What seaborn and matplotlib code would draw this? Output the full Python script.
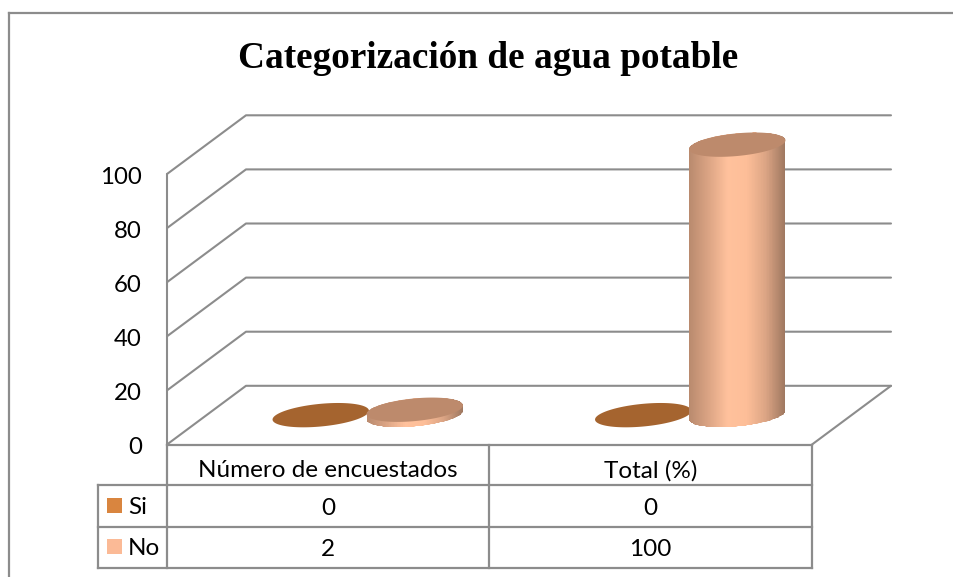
"""
Categorización de agua potable: cilindros tipo "3D" con tabla de datos debajo.
"""

import numpy as np
import pandas as pd
import matplotlib.pyplot as plt
import seaborn as sns
from matplotlib.colors import LinearSegmentedColormap

titulo = "Categorización de agua potable"
categorias = ["Número de encuestados", "Total (%)"]
series = ["Si", "No"]
valores_si = [0, 0]
valores_no = [2, 100]
ticks_y = [0, 20, 40, 60, 80, 100]

COLOR_LINEA = "#8c8c8c"
COLOR_LEYENDA = {"Si": "#d9853f", "No": "#fbba96"}
COLOR_TAPA = {"Si": "#a5642f", "No": "#bd8a6c"}
COLORES_CUERPO = ["#b98a6e", "#dba484", "#ffc19c", "#fdbe98", "#dba484", "#9f7860"]

W, H = 954, 577
# plano frontal del grafico, en pixeles
X0, X1, Y0, Y100 = 167, 812, 444.5, 174
FONDO_X, FONDO_Y = 79, 58.7
A_ELIPSE, B_ELIPSE, GIRO = 1.03, 11.3, np.radians(5.5)


def elipse(cx, cy, t, a, sx, sy):
    # elipse inclinada: el giro se hace en pixeles y vuelve a unidades de datos
    px = a * np.cos(GIRO) * np.cos(t) - B_ELIPSE * np.sin(GIRO) * np.sin(t)
    py = a * np.sin(GIRO) * np.cos(t) + B_ELIPSE * np.cos(GIRO) * np.sin(t)
    return cx + px / sx, cy + py / sy


def main():
    sns.set_theme(style="white")
    plt.rcParams["font.family"] = ["Lato", "DejaVu Sans"]

    fig = plt.figure(figsize=(W / 100, H / 100), dpi=100, facecolor="white")

    # capa en pixeles para marco, titulo y tabla
    capa = fig.add_axes([0, 0, 1, 1], zorder=0)
    capa.set_xlim(0, W)
    capa.set_ylim(H, 0)
    capa.axis("off")

    # plano medio de profundidad: ahi se apoyan los cilindros
    ax = fig.add_axes(
        [(X0 + FONDO_X / 2) / W, 1 - (Y0 - FONDO_Y / 2) / H, (X1 - X0) / W, (Y0 - Y100) / H],
        zorder=1,
    )
    ax.patch.set_alpha(0)

    df = pd.DataFrame({
        "categoria": categorias * 2,
        "serie": [series[0]] * 2 + [series[1]] * 2,
        "valor": valores_si + valores_no,
    })
    sns.barplot(
        data=df, x="categoria", y="valor", hue="serie", palette=COLOR_LEYENDA,
        width=0.583, gap=0, legend=False, ax=ax,
    )
    ax.set_xlim(-0.5, 1.5)
    ax.set_ylim(0, 100)
    ax.axis("off")

    sx = (X1 - X0) / 2
    sy = (Y0 - Y100) / 100
    dx = FONDO_X / 2 / sx
    dy = FONDO_Y / 2 / sy

    # paredes y rejilla
    linea = dict(color=COLOR_LINEA, lw=1.5, clip_on=False, zorder=1, solid_capstyle="round")
    for v in ticks_y:
        ax.plot([-0.5 - dx, -0.5 + dx, 1.5 + dx], [v - dy, v + dy, v + dy], **linea)
        yp = Y0 - v * sy
        capa.text(142, yp + 3.5, str(v), ha="right", va="center", fontsize=17.3, color="black")
    ax.plot([-0.5 - dx, -0.5 - dx], [ticks_y[0] - dy, ticks_y[-1] - dy], **linea)
    ax.plot([1.5 - dx, 1.5 + dx], [ticks_y[0] - dy, ticks_y[0] + dy], **linea)

    # cilindros
    cmap = LinearSegmentedColormap.from_list("cuerpo", COLORES_CUERPO)
    z = 3
    for serie, cont in zip(series, ax.containers):
        for barra in cont:
            barra.set_alpha(0)
            cx = barra.get_x() + barra.get_width() / 2
            alto = barra.get_height()
            a = barra.get_width() / 2 * sx * A_ELIPSE
            t = np.linspace(0, 2 * np.pi, 200)
            if alto > 0:
                t_der = np.arctan2(-B_ELIPSE * np.sin(GIRO), a * np.cos(GIRO))
                abajo = np.linspace(t_der + np.pi, t_der + 2 * np.pi, 100)
                arriba = np.linspace(t_der, t_der + np.pi, 100)
                xa, ya = elipse(cx, 0, abajo, a, sx, sy)
                xb, yb = elipse(cx, alto, arriba, a, sx, sy)
                cuerpo, = ax.fill(np.r_[xa, xb], np.r_[ya, yb], color="none", zorder=z)
                bordes_x = np.linspace(xa.min(), xa.max(), 161)
                malla = ax.pcolormesh(
                    bordes_x, [ya.min(), yb.max()],
                    np.linspace(0, 1, 160).reshape(1, -1),
                    cmap=cmap, zorder=z, shading="flat",
                )
                malla.set_clip_path(cuerpo)
                malla.set_clip_box(None)
                z += 1
            xt, yt = elipse(cx, alto, t, a, sx, sy)
            ax.fill(xt, yt, color=COLOR_TAPA[serie], lw=0, clip_on=False, zorder=z)
            z += 1
    ax.set_xlim(-0.5, 1.5)
    ax.set_ylim(0, 100)

    # marco exterior
    borde = dict(color=COLOR_LINEA, lw=1.6, solid_capstyle="projecting")
    capa.plot([9, 9], [H, 12.5], **borde)
    capa.plot([9, W], [12.5, 12.5], **borde)

    capa.text(488, 58, titulo, ha="center", va="center", fontsize=26.8,
              fontweight="bold", family="Liberation Serif", color="black")

    # tabla de datos
    filas = [485, 527, 568]
    col = [X0, 489, X1]
    capa.plot([X0, X1], [Y0, Y0], **borde)
    for y in filas:
        capa.plot([98, X1], [y, y], **borde)
    capa.plot([98, 98], [filas[0], filas[-1]], **borde)
    for x in col:
        capa.plot([x, x], [Y0, filas[-1]], **borde)

    cx_col = [(col[0] + col[1]) / 2, (col[1] + col[2]) / 2]
    texto = dict(ha="center", va="center", fontsize=17.5, color="black")
    for i, nombre in enumerate(categorias):
        capa.text(cx_col[i], 470.5, nombre, **texto)
        capa.text(cx_col[i], 508.5, str(valores_si[i]), **texto)
        capa.text(cx_col[i], 549.5, str(valores_no[i]), **texto)

    for serie, y in zip(series, [505.5, 546.5]):
        capa.fill_between([107, 122], y - 7.5, y + 7.5, color=COLOR_LEYENDA[serie], lw=0)
        capa.text(128, y + 2, serie, ha="left", va="center", fontsize=17.5, color="black")

    capa.set_xlim(0, W)
    capa.set_ylim(H, 0)

    fig.savefig("out.png", dpi=100)
    plt.close(fig)


if __name__ == "__main__":
    main()
